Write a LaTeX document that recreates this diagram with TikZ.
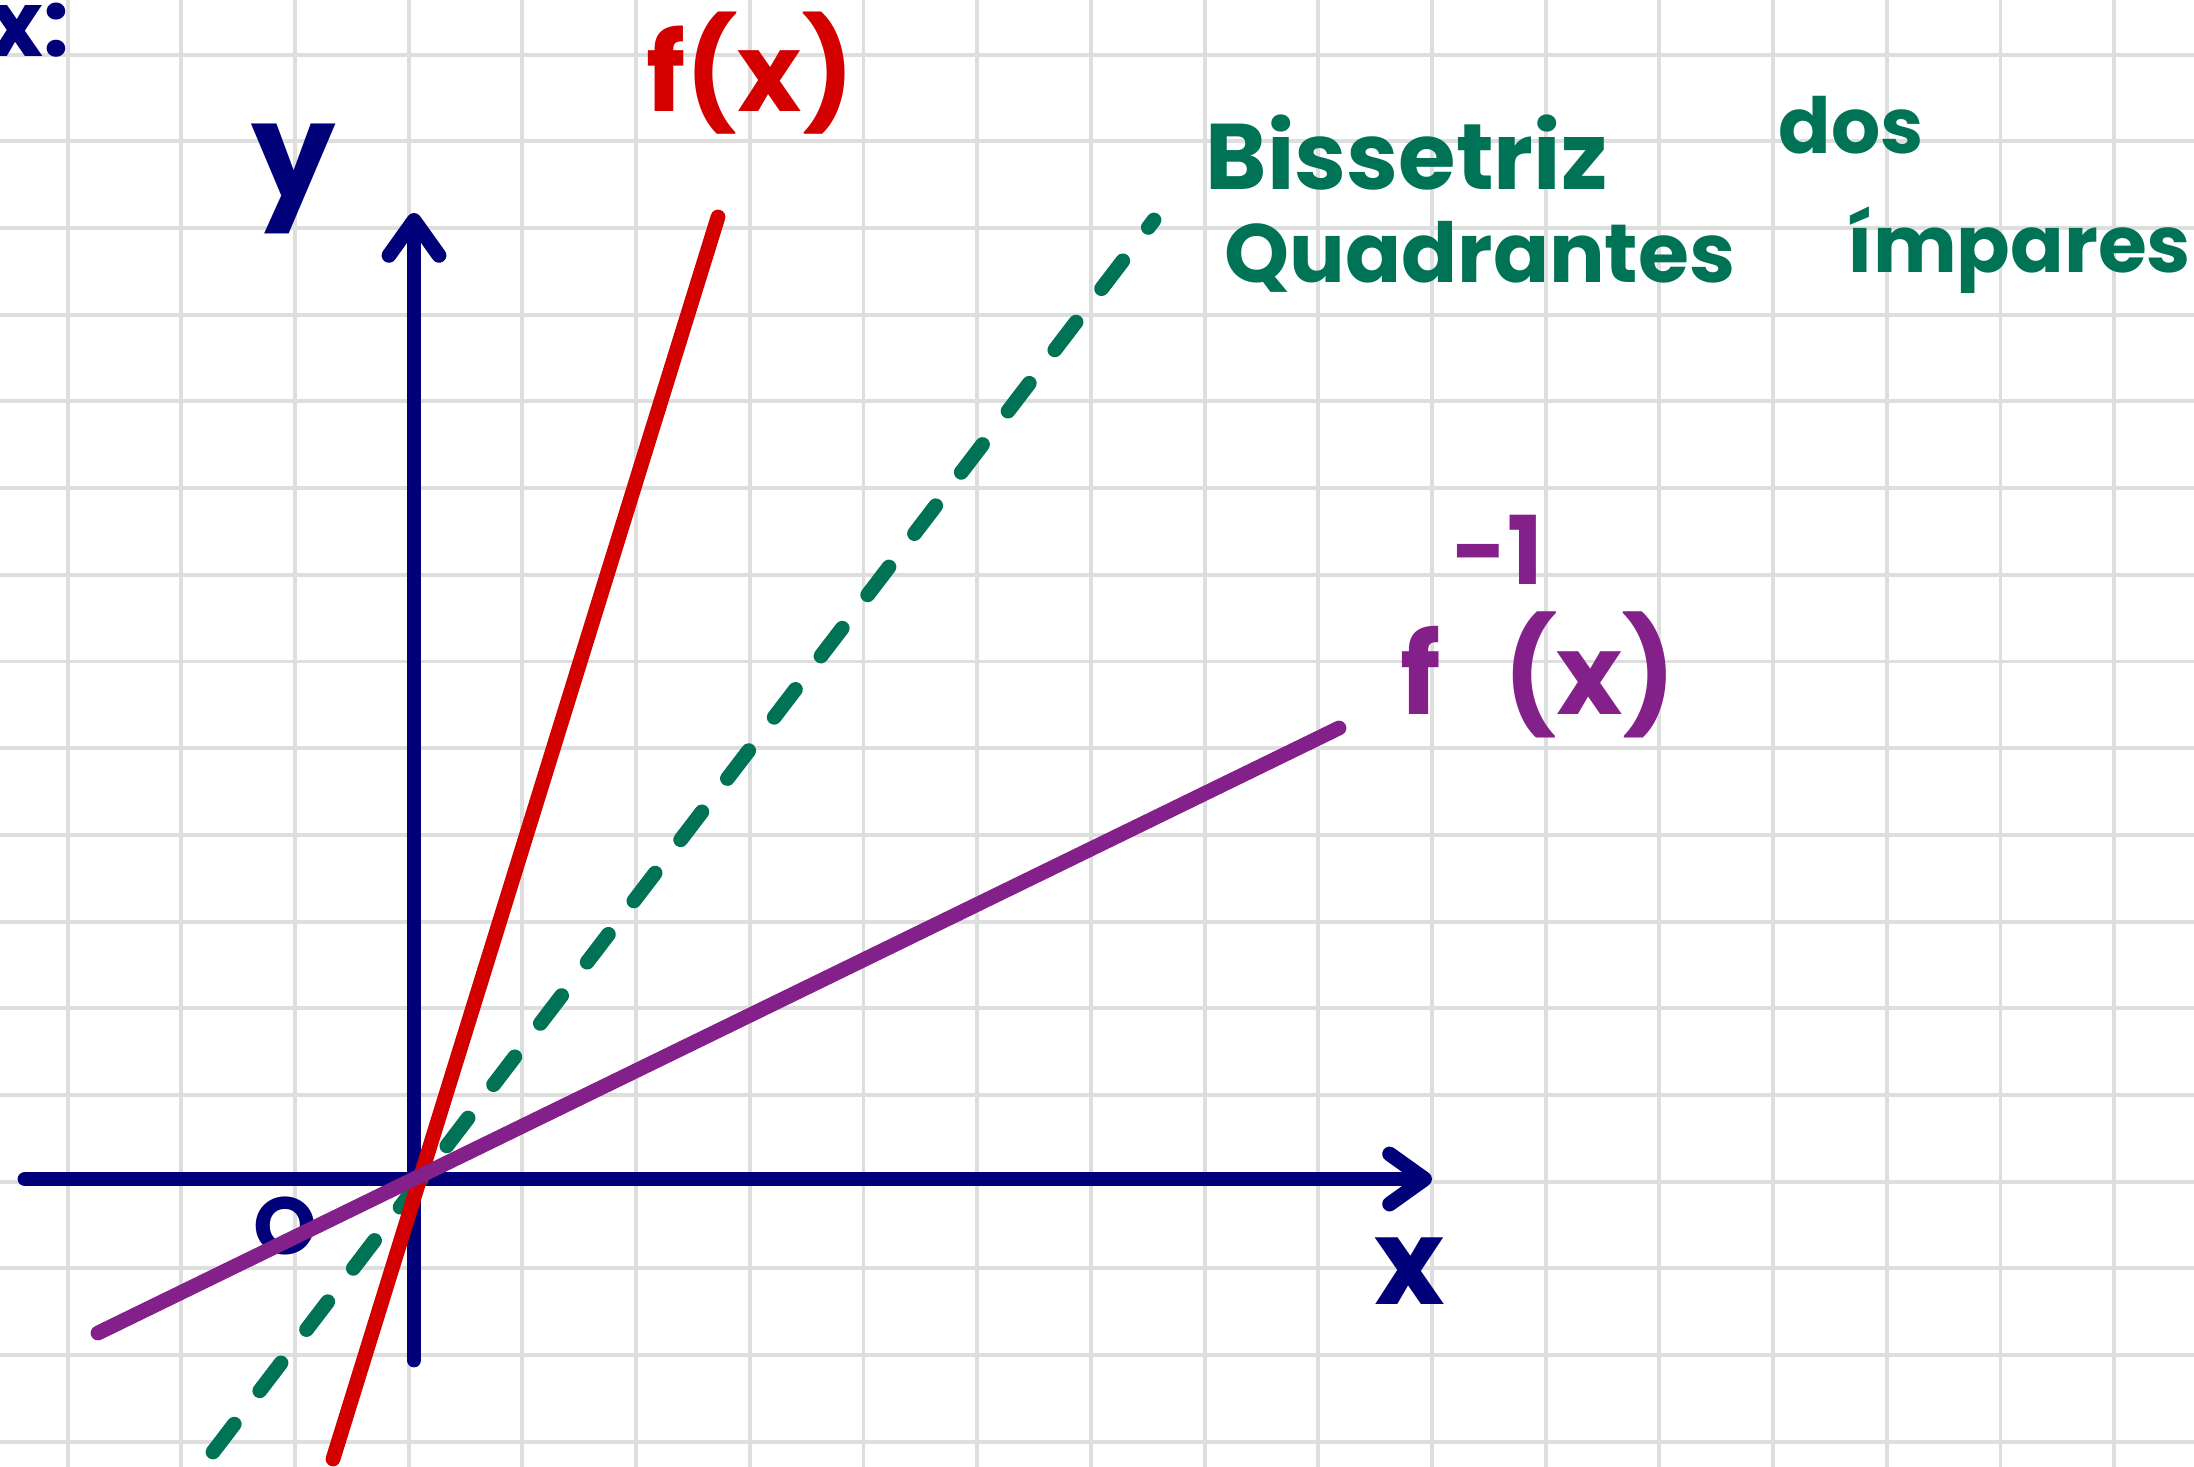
\documentclass[tikz,border=0pt]{standalone}
\usepackage{fontspec}
\setmainfont{Poppins}
\usetikzlibrary{arrows.meta}
\definecolor{axisnavy}{HTML}{000078}
\definecolor{fred}{HTML}{D40000}
\definecolor{finvpurple}{HTML}{84208A}
\definecolor{bisgreen}{HTML}{007356}

\begin{document}
\begin{tikzpicture}[x=0.01cm, y=-0.01cm]

		\tikzstyle{gridline} = [black!13, line width=1.1pt]
		\tikzstyle{axis} = [draw=axisnavy, line width=4.2pt, line cap=round, -{Straight Barb[round, length=3.5mm, width=5mm]}]
		\tikzstyle{graph} = [line width=4.2pt, line cap=round]
		\tikzstyle{hand} = [inner sep=0pt, font=\bfseries]

		\useasboundingbox (0,0) rectangle (2194,1467);
		\fill[white] (0,0) rectangle (2194,1467);

		% grid
		\foreach \k in {0,...,18} \draw[gridline] ({67.6+113.7*\k},0) -- ({67.6+113.7*\k},1467);
		\foreach \k in {0,...,16} \draw[gridline] (0,{54.6+86.7*\k}) -- (2194,{54.6+86.7*\k});

		\coordinate (xleft) at (25,1179);
		\coordinate (xright) at (1432,1179);
		\coordinate (ybottom) at (414,1360);
		\coordinate (ytop) at (414,213);

		\draw[axis] (xleft) -- (xright);
		\draw[axis] (ybottom) -- (ytop);

		\node[hand, axisnavy, font=\bfseries\fontsize{26}{26}\selectfont, anchor=east] (excolon) at (70,30) {x:};
		\node[hand, axisnavy, font=\bfseries\fontsize{38}{38}\selectfont] (ylabel) at (294,179) {y};
		\node[hand, axisnavy, font=\bfseries\fontsize{34}{34}\selectfont] (xlabel) at (1410,1271) {x};
		\node[hand, axisnavy, font=\bfseries\fontsize{23}{23}\selectfont] (olabel) at (285,1226) {O};

		\node[hand, fred, font=\bfseries\fontsize{31}{31}\selectfont, anchor=base west] (flabel) at (646,112) {f(x)};
		\node[hand, finvpurple, font=\bfseries\fontsize{32}{32}\selectfont, anchor=base west] (finvlabel) at (1400,714) {f\hspace{0.1em}\rlap{\raisebox{1.15em}{\fontsize{27}{27}\selectfont-1}}\hspace{0.45em}(x)};

		\node[hand, bisgreen, font=\bfseries\fontsize{26.5}{26.5}\selectfont, anchor=base west] (bislabel) at (1205,190) {Bissetriz};
		\node[hand, bisgreen, font=\bfseries\fontsize{22}{22}\selectfont, anchor=base west] (doslabel) at (1778,154) {dos};
		\node[hand, bisgreen, font=\bfseries\fontsize{23.5}{23.5}\selectfont, anchor=base west] (quadlabel) at (1224,283) {Quadrantes};
		\node[hand, bisgreen, font=\bfseries\fontsize{22.5}{22.5}\selectfont, anchor=base west] (implabel) at (1847,273) {ímpares};

		\draw[graph, bisgreen, dash pattern=on 0.35cm off 0.42cm] (213,1452) -- (1154,220);
		\draw[graph, fred] (333,1459) -- (718,217);
		\draw[graph, finvpurple] (98,1333) -- (1339,728);

	\end{tikzpicture}
\end{document}
